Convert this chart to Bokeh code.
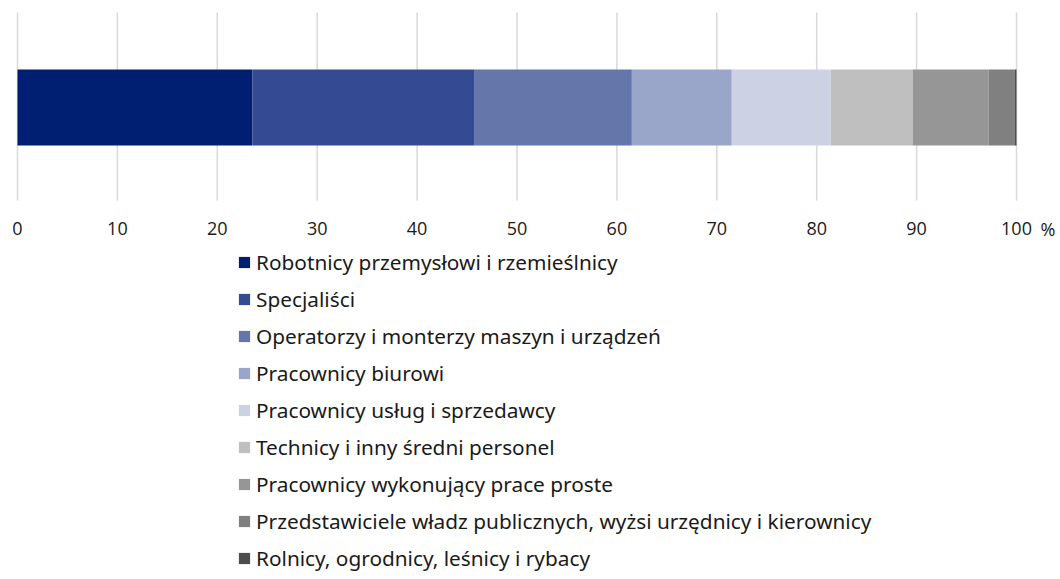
from bokeh.plotting import figure
from bokeh.models import Range1d, Legend, LegendItem
from bokeh.core.properties import value
from bokeh.embed import file_html
from bokeh.resources import INLINE

categories = [
    "Robotnicy przemysłowi i rzemieślnicy",
    "Specjaliści",
    "Operatorzy i monterzy maszyn i urządzeń",
    "Pracownicy biurowi",
    "Pracownicy usług i sprzedawcy",
    "Technicy i inny średni personel",
    "Pracownicy wykonujący prace proste",
    "Przedstawiciele władz publicznych, wyżsi urzędnicy i kierownicy",
    "Rolnicy, ogrodnicy, leśnicy i rybacy",
]
values = [23.5, 22.2, 15.8, 10.0, 9.9, 8.2, 7.6, 2.6, 0.2]
colors = ["#001F73", "#344A92", "#6576AB", "#99A6C9", "#CCD2E4",
          "#BFBFBF", "#969696", "#808080", "#4D4D4D"]
ticks = [0, 10, 20, 30, 40, 50, 60, 70, 80, 90, 100]
tick_labels = [str(t) for t in ticks]
unit = "%"

TICK_FONT = "Open Sans"
LEG_FONT = "Noto Sans"
TXT = "#1A1A1A"

# layout in pixels
W, H = 1058, 578
PLOT_L, PLOT_R = 17, 1016          # pixel positions of 0 and 100
BAR_Y, BAR_H = 107, 76
GRID_TOP, GRID_BOT = 12, 200
LABEL_Y = 228
px_per_unit = (PLOT_R - PLOT_L) / 100.0
x_start = -PLOT_L / px_per_unit
x_end = 100 + (W - PLOT_R) / px_per_unit

keys = [f"s{i}" for i in range(len(values))]
data = {"y": [BAR_Y]}
for k, v in zip(keys, values):
    data[k] = [v]

p = figure(width=W, height=H, output_backend="svg", toolbar_location=None,
           x_range=Range1d(x_start, x_end), y_range=Range1d(H, 0),
           min_border_left=0, min_border_right=0, min_border_top=0, min_border_bottom=0)
p.outline_line_color = None
p.background_fill_color = None
p.border_fill_color = None
p.axis.visible = False
p.grid.visible = False

# vertical gridlines at the ticks
p.segment(x0=ticks, y0=[GRID_TOP] * len(ticks), x1=ticks, y1=[GRID_BOT] * len(ticks),
          line_color="#D9D9D9", line_width=1.5)

rs = p.hbar_stack(keys, y="y", height=BAR_H, color=colors, source=data, line_width=0)

# tick labels
p.text(x=ticks, y=[LABEL_Y] * len(ticks), text=tick_labels,
       text_font=value(TICK_FONT), text_font_size="18px", text_color=TXT,
       text_align="center", text_baseline="middle")
p.text(x=[ticks[-1]], y=[LABEL_Y], text=[unit], x_offset=24,
       text_font=value(TICK_FONT), text_font_size="18px", text_color=TXT,
       text_align="left", text_baseline="middle")

items = [LegendItem(label=c, renderers=[r]) for c, r in zip(categories, rs)]
legend = Legend(items=items, orientation="vertical", location=(237, 5),
                glyph_width=14, glyph_height=14, label_height=30, spacing=7,
                label_standoff=5, padding=0, margin=0,
                label_text_font=LEG_FONT, label_text_font_size="20.8px",
                label_text_color=TXT, border_line_color=None,
                background_fill_alpha=0)
p.add_layout(legend, "center")

open("out.html", "w").write(file_html(p, INLINE))
